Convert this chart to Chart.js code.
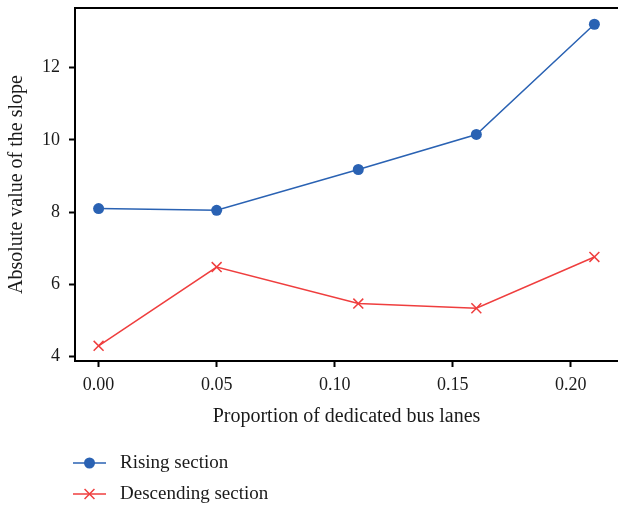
<!DOCTYPE html>
<html>
<head>
<meta charset="utf-8">
<script src="https://cdn.jsdelivr.net/npm/chart.js@4.4.1/dist/chart.umd.min.js"></script>
<style>
  html, body { margin: 0; padding: 0; background: #fff; }
  #wrap { width: 618px; height: 508px; }
</style>
</head>
<body>
<div id="wrap"><canvas id="slopeChart" width="618" height="508"></canvas></div>
<script>
const proportions = [0.00, 0.05, 0.11, 0.16, 0.21];
const risingValues = [8.10, 8.05, 9.18, 10.15, 13.20];
const descendingValues = [4.30, 6.48, 5.47, 5.34, 6.76];
const seriesNames = ['Rising section', 'Descending section'];
const xTicks = [0.00, 0.05, 0.10, 0.15, 0.20];
const yTicks = [4, 6, 8, 10, 12];

const FONT = "'Liberation Serif', 'DejaVu Serif', serif";
const BLUE = '#2a62b3';
const RED = '#ef3e3e';

const toPoints = (xs, ys) => xs.map((x, i) => ({ x: x, y: ys[i] }));

// top spine only (right spine is cut off in the original)
const topSpine = {
    id: 'topSpine',
    afterDraw(chart) {
        const { ctx, chartArea } = chart;
        ctx.save();
        ctx.strokeStyle = '#000';
        ctx.lineWidth = 2;
        ctx.beginPath();
        ctx.moveTo(chartArea.left - 1, chartArea.top);
        ctx.lineTo(chartArea.right, chartArea.top);
        ctx.stroke();
        ctx.restore();
    }
};

// legend stacked under the axis title
const stackedLegend = {
    id: 'stackedLegend',
    afterDraw(chart) {
        const ctx = chart.ctx;
        const rows = [463, 494];
        chart.data.datasets.forEach((ds, i) => {
            const y = rows[i];
            ctx.save();
            ctx.strokeStyle = ds.borderColor;
            ctx.fillStyle = ds.pointBackgroundColor || ds.borderColor;
            ctx.lineWidth = ds.borderWidth;
            ctx.beginPath();
            ctx.moveTo(73, y);
            ctx.lineTo(106, y);
            ctx.stroke();
            ctx.lineWidth = ds.pointBorderWidth;
            Chart.helpers.drawPoint(ctx, {
                pointStyle: ds.pointStyle,
                radius: ds.pointRadius,
                borderWidth: ds.pointBorderWidth
            }, 89.5, y);
            ctx.fillStyle = '#1a1a1a';
            ctx.font = '19px ' + FONT;
            ctx.textBaseline = 'middle';
            ctx.textAlign = 'left';
            ctx.fillText(ds.label, 120, y);
            ctx.restore();
        });
    }
};

new Chart(document.getElementById('slopeChart'), {
    type: 'line',
    data: {
        datasets: [{
            label: seriesNames[0],
            data: toPoints(proportions, risingValues),
            borderColor: BLUE,
            backgroundColor: BLUE,
            borderWidth: 1.5,
            pointStyle: 'circle',
            pointRadius: 5.5,
            pointBorderWidth: 0,
            pointBackgroundColor: BLUE,
            pointBorderColor: BLUE,
            tension: 0
        }, {
            label: seriesNames[1],
            data: toPoints(proportions, descendingValues),
            borderColor: RED,
            backgroundColor: RED,
            borderWidth: 1.5,
            pointStyle: 'crossRot',
            pointRadius: 7,
            pointBorderWidth: 1.5,
            pointBorderColor: RED,
            tension: 0
        }]
    },
    options: {
        responsive: false,
        animation: false,
        layout: { autoPadding: false, padding: { left: 0, top: 8, right: 0, bottom: 79 } },
        plugins: {
            legend: { display: false },
            tooltip: { enabled: false }
        },
        scales: {
            x: {
                type: 'linear',
                min: -0.01,
                max: 0.22,
                afterFit: s => { s.height = 68; s.paddingLeft = 0; s.paddingRight = 0; },
                afterBuildTicks: s => { s.ticks = xTicks.map(v => ({ value: v })); },
                grid: { drawOnChartArea: false, drawTicks: true, tickLength: 6, tickWidth: 2, tickColor: '#000' },
                border: { display: true, color: '#000', width: 2 },
                ticks: {
                    padding: 7,
                    color: '#1a1a1a',
                    font: { family: FONT, size: 18 },
                    callback: v => Number(v).toFixed(2)
                },
                title: {
                    display: true,
                    text: 'Proportion of dedicated bus lanes',
                    color: '#1a1a1a',
                    font: { family: FONT, size: 20 },
                    padding: { top: 0, bottom: 0 }
                }
            },
            y: {
                type: 'linear',
                min: 3.88,
                max: 13.65,
                afterFit: s => { s.width = 75; s.paddingTop = 0; s.paddingBottom = 0; },
                afterBuildTicks: s => { s.ticks = yTicks.map(v => ({ value: v })); },
                grid: { drawOnChartArea: false, drawTicks: true, tickLength: 6, tickWidth: 2, tickColor: '#000' },
                border: { display: true, color: '#000', width: 2 },
                ticks: {
                    padding: 9,
                    color: '#1a1a1a',
                    font: { family: FONT, size: 18 },
                    callback: v => String(v)
                },
                title: {
                    display: true,
                    text: 'Absolute value of the slope',
                    color: '#1a1a1a',
                    font: { family: FONT, size: 20 },
                    padding: { top: 5, bottom: 0 }
                }
            }
        }
    },
    plugins: [topSpine, stackedLegend]
});
</script>
</body>
</html>
